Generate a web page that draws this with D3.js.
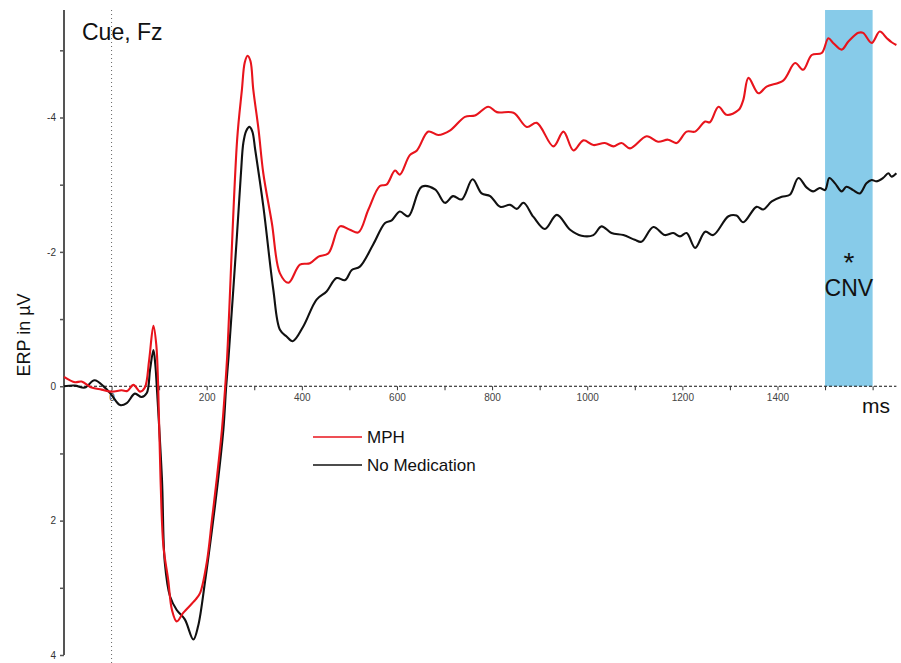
<!DOCTYPE html>
<html>
<head>
<meta charset="utf-8">
<script src="https://cdn.jsdelivr.net/npm/d3@7/dist/d3.min.js"></script>
<style>
  html, body { margin: 0; padding: 0; background: #fff; }
  svg { display: block; font-family: "Liberation Sans", Arial, sans-serif; }
</style>
</head>
<body>
<svg id="chart" width="901" height="663"></svg>
<script>
// Grand-average ERP at Fz after the cue (ms, µV; negative plotted upward)
const mphTime = [-100, -77, -63, -42, -21, 0, 21, 33, 46, 60, 70, 79, 88, 94, 98, 103, 109, 119, 127, 137,
  151, 176, 186, 200, 211, 221, 232, 239, 243, 264, 274, 280, 286, 292, 298, 309, 319, 337, 354, 372, 396, 417,
  435, 456, 480, 501, 519, 540, 564, 578, 596, 606, 627, 642, 666, 687, 712, 743, 764, 792, 810, 845,
  873, 894, 929, 950, 971, 992, 1013, 1037, 1055, 1072, 1090, 1125, 1149, 1170, 1188, 1209, 1227, 1248, 1258, 1276,
  1293, 1318, 1328, 1339, 1360, 1377, 1412, 1437, 1454, 1472, 1493, 1507, 1517, 1535, 1549, 1570, 1580, 1598, 1615, 1630,
  1640, 1650];
const mphValue = [-0.14, -0.06, -0.07, 0.02, 0.05, 0.08, 0.06, 0.07, -0.02, 0.08, 0.02, -0.39, -0.90, -0.62, 0.0, 1.39, 2.38, 2.88, 3.33, 3.50,
  3.37, 3.18, 3.08, 2.63, 1.99, 1.39, 0.65, 0.0, -0.44, -3.67, -4.41, -4.82, -4.92, -4.84, -4.41, -3.82, -3.17, -2.43, -1.68, -1.54, -1.81, -1.83,
  -1.93, -1.98, -2.38, -2.33, -2.29, -2.63, -2.98, -3.00, -3.21, -3.15, -3.44, -3.51, -3.79, -3.74, -3.81, -4.01, -4.03, -4.16, -4.08, -4.07,
  -3.86, -3.92, -3.57, -3.79, -3.51, -3.66, -3.59, -3.62, -3.57, -3.62, -3.54, -3.72, -3.64, -3.67, -3.62, -3.79, -3.79, -3.94, -3.93, -4.16,
  -4.04, -4.11, -4.26, -4.59, -4.36, -4.46, -4.55, -4.81, -4.71, -4.93, -4.96, -5.18, -5.11, -5.01, -5.13, -5.26, -5.26, -5.11, -5.28, -5.18,
  -5.12, -5.08];

const noMedTime = [-100, -77, -56, -36, -14, 0, 18, 32, 49, 63, 74, 81, 88, 92, 95, 106, 112, 123, 137, 154,
  172, 182, 197, 211, 224, 235, 241, 246, 263, 272, 277, 283, 290, 296, 302, 319, 340, 354, 368, 381, 403, 431, 452,
  473, 491, 505, 522, 550, 575, 589, 606, 624, 652, 680, 701, 718, 736, 759, 778, 796, 817, 838, 852,
  866, 887, 911, 936, 964, 988, 1013, 1030, 1051, 1076, 1100, 1114, 1139, 1163, 1181, 1195, 1209, 1227, 1248, 1265,
  1297, 1314, 1328, 1356, 1370, 1388, 1409, 1426, 1444, 1461, 1475, 1489, 1500, 1509, 1521, 1535, 1545, 1559, 1573, 1587,
  1598, 1608, 1622, 1633, 1640, 1650];
const noMedValue = [0.0, -0.01, 0.02, -0.09, 0.02, 0.13, 0.28, 0.25, 0.11, 0.16, 0.10, -0.25, -0.54, -0.32, 0.0, 1.39, 2.63, 3.13, 3.33, 3.47,
  3.77, 3.57, 2.88, 2.14, 1.39, 0.65, 0.0, -0.44, -2.18, -3.17, -3.62, -3.80, -3.86, -3.79, -3.52, -2.68, -1.44, -0.84, -0.74, -0.67, -0.89, -1.29, -1.41,
  -1.61, -1.58, -1.73, -1.78, -2.11, -2.43, -2.47, -2.60, -2.53, -2.97, -2.93, -2.73, -2.83, -2.78, -3.08, -2.87, -2.83, -2.67, -2.70, -2.64,
  -2.73, -2.52, -2.34, -2.55, -2.33, -2.24, -2.25, -2.38, -2.28, -2.25, -2.18, -2.15, -2.37, -2.25, -2.28, -2.23, -2.28, -2.06, -2.30, -2.25,
  -2.53, -2.54, -2.44, -2.67, -2.63, -2.75, -2.82, -2.85, -3.10, -2.96, -2.90, -2.95, -2.92, -3.10, -3.02, -2.90, -2.97, -2.92, -2.87, -3.02,
  -3.07, -3.05, -3.10, -3.17, -3.12, -3.17];

const seriesNames = ["MPH", "No Medication"];
const seriesColors = ["#e8141c", "#111111"];

const cnvWindow = [1500, 1600];          // ms, significant CNV window
const xTicks = d3.range(0, 1601, 100);
const xTickLabels = [0, 200, 400, 600, 800, 1000, 1200, 1400];
const yTicks = d3.range(-5, 5, 1);
const yTickLabels = [-4, -2, 0, 2, 4];

const svg = d3.select("#chart");

const x = d3.scaleLinear().domain([-100, 1650]).range([64, 896.4]);
const y = d3.scaleLinear().domain([-5.6, 4]).range([10, 655]);

// CNV window shading
svg.append("rect")
  .attr("x", x(cnvWindow[0]))
  .attr("y", y(-5.6))
  .attr("width", x(cnvWindow[1]) - x(cnvWindow[0]))
  .attr("height", y(0) - y(-5.6))
  .attr("fill", "#87cbe9");

// stimulus onset marker
svg.append("line")
  .attr("x1", x(0)).attr("x2", x(0))
  .attr("y1", 10).attr("y2", 663)
  .attr("stroke", "#666").attr("stroke-width", 1)
  .attr("stroke-dasharray", "1,3");

// y axis
const yAxis = d3.axisLeft(y)
  .tickValues(yTicks)
  .tickSize(4)
  .tickFormat(d => yTickLabels.includes(d) ? String(d) : "");
const gy = svg.append("g").attr("transform", `translate(${x(-100)},0)`).call(yAxis);
gy.select(".domain").attr("stroke", "#555").attr("stroke-width", 2)
  .attr("d", `M0,${y(-5.6)}V${y(4)}`);
gy.selectAll(".tick line").attr("stroke", "#555").attr("stroke-width", 1.5);
gy.selectAll(".tick text").attr("fill", "#333").attr("font-size", 10).attr("x", -8)
  .attr("font-family", "'Liberation Sans', Arial, sans-serif");

// x axis through zero
const xAxis = d3.axisBottom(x)
  .tickValues(xTicks)
  .tickSize(4)
  .tickPadding(4)
  .tickFormat(d => xTickLabels.includes(d) ? String(d) : "");
const gx = svg.append("g").attr("transform", `translate(0,${y(0)})`).call(xAxis);
gx.select(".domain").attr("stroke", "#111").attr("stroke-width", 1.2)
  .attr("stroke-dasharray", "3,2").attr("d", `M${x(-100)},0H${x(1650)}`);
gx.selectAll(".tick line").attr("stroke", "#333").attr("stroke-width", 1);
gx.selectAll(".tick text").attr("fill", "#444").attr("font-size", 10)
  .attr("font-family", "'Liberation Sans', Arial, sans-serif");

// waveforms
const line = d3.line()
  .x(d => x(d[0]))
  .y(d => y(d[1]))
  .curve(d3.curveCatmullRom.alpha(0.5));

const series = [
  d3.zip(noMedTime, noMedValue),
  d3.zip(mphTime, mphValue)
];
const colors = [seriesColors[1], seriesColors[0]];
series.forEach((s, i) => {
  svg.append("path")
    .datum(s)
    .attr("d", line)
    .attr("fill", "none")
    .attr("stroke", colors[i])
    .attr("stroke-width", 2.1)
    .attr("stroke-linejoin", "round");
});

// texts
svg.append("text").attr("x", 82).attr("y", 40)
  .attr("font-size", 23).attr("fill", "#111").text("Cue, Fz");

svg.append("text")
  .attr("transform", `translate(30,335) rotate(-90)`)
  .attr("text-anchor", "middle")
  .attr("font-size", 18).attr("fill", "#111").text("ERP in µV");

svg.append("text").attr("x", 862).attr("y", 413)
  .attr("font-size", 21).attr("fill", "#111").text("ms");

const cnvMid = (x(cnvWindow[0]) + x(cnvWindow[1])) / 2;
svg.append("text").attr("x", cnvMid).attr("y", 272)
  .attr("text-anchor", "middle").attr("font-size", 28).attr("fill", "#111").text("*");
svg.append("text").attr("x", cnvMid).attr("y", 296)
  .attr("text-anchor", "middle").attr("font-size", 23).attr("fill", "#111").text("CNV");

// legend
const legend = svg.append("g").attr("transform", "translate(313,437)");
seriesNames.forEach((name, i) => {
  const g = legend.append("g").attr("transform", `translate(0,${i * 28})`);
  g.append("line").attr("x1", 0).attr("x2", 49).attr("y1", 0).attr("y2", 0)
    .attr("stroke", seriesColors[i]).attr("stroke-width", 1.5);
  g.append("text").attr("x", 54).attr("y", 6)
    .attr("font-size", 17).attr("fill", "#111").text(name);
});
</script>
</body>
</html>
